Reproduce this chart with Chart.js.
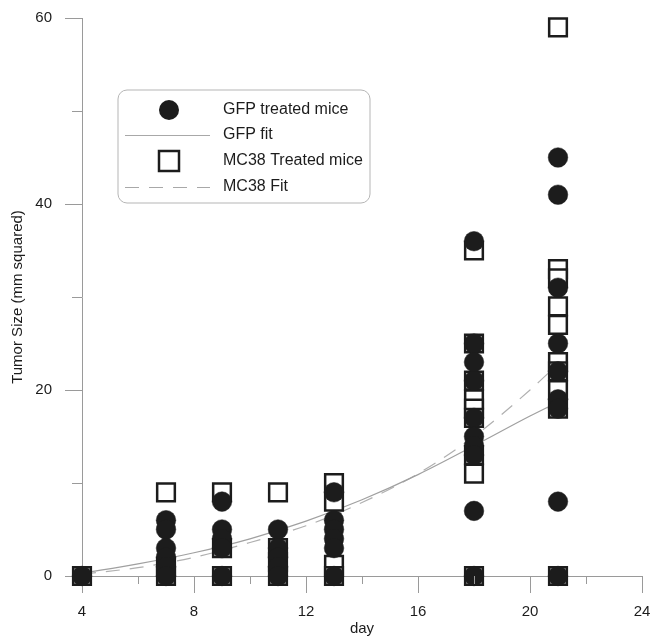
<!DOCTYPE html>
<html>
<head>
<meta charset="utf-8">
<script src="https://cdn.jsdelivr.net/npm/chart.js@4/dist/chart.umd.min.js"></script>
<style>
  html, body { margin: 0; padding: 0; background: #ffffff; }
  #wrap { position: relative; width: 652px; height: 640px; }
</style>
</head>
<body>
<div id="wrap"><canvas id="c" width="652" height="640"></canvas></div>
<script>
// ---- data ----
const days = [4, 7, 9, 11, 13, 18, 21];
const gfpDay4 = [0];
const gfpDay7 = [6, 5, 3, 2, 1, 0];
const gfpDay9 = [8, 5, 4, 3, 0];
const gfpDay11 = [5, 3, 2, 1, 0];
const gfpDay13 = [9, 6, 5, 4, 3, 0];
const gfpDay18 = [36, 25, 23, 21, 17, 15, 14, 13, 7, 0];
const gfpDay21 = [45, 41, 31, 25, 22, 19, 18, 8, 0];
const mc38Day4 = [0];
const mc38Day7 = [9, 1, 0];
const mc38Day9 = [9, 3, 0];
const mc38Day11 = [9, 3, 1.5, 0];
const mc38Day13 = [10, 8, 1.2, 0];
const mc38Day18 = [35, 25, 21, 19, 18, 17, 13, 11, 0];
const mc38Day21 = [59, 33, 32, 29, 27, 23, 22, 20, 18, 0];
const fitDays = [4, 6, 8, 10, 12, 14, 16, 18, 20, 21];
const gfpFit = [0.3, 1.3, 2.5, 4.0, 5.9, 8.2, 10.9, 14.0, 17.2, 18.7];
const mc38Fit = [0.2, 0.9, 2.0, 3.6, 5.4, 7.9, 11.0, 15.0, 20.0, 22.8];
const xTickLabels = [4, 8, 12, 16, 20, 24];
const yTickLabels = [0, 20, 40, 60];
const seriesNames = ['GFP treated mice', 'GFP fit', 'MC38 Treated mice', 'MC38 Fit'];

// ---- build point lists ----
const gfpByDay = [gfpDay4, gfpDay7, gfpDay9, gfpDay11, gfpDay13, gfpDay18, gfpDay21];
const mc38ByDay = [mc38Day4, mc38Day7, mc38Day9, mc38Day11, mc38Day13, mc38Day18, mc38Day21];
function toPoints(groups) {
  const out = [];
  groups.forEach((vals, i) => vals.forEach(v => out.push({ x: days[i], y: v })));
  return out;
}
const gfpPoints = toPoints(gfpByDay);
const mc38Points = toPoints(mc38ByDay);
const gfpFitPoints = fitDays.map((d, i) => ({ x: d, y: gfpFit[i] }));
const mc38FitPoints = fitDays.map((d, i) => ({ x: d, y: mc38Fit[i] }));

const FONT = '"Liberation Sans", Arial, Helvetica, sans-serif';
const INK = '#1c1c1c';
const AXIS = '#9a9a9a';

const minorTicks = {
  id: 'minorTicks',
  afterDraw(chart) {
    const ctx = chart.ctx;
    const xs = chart.scales.x, ys = chart.scales.y;
    ctx.save();
    ctx.strokeStyle = AXIS;
    ctx.lineWidth = 1;
    [6, 10, 14, 18, 22].forEach(v => {
      const px = Math.round(xs.getPixelForValue(v)) + 0.5;
      ctx.beginPath();
      ctx.moveTo(px, ys.bottom);
      ctx.lineTo(px, ys.bottom + 8);
      ctx.stroke();
    });
    [10, 30, 50].forEach(v => {
      const py = Math.round(ys.getPixelForValue(v)) + 0.5;
      ctx.beginPath();
      ctx.moveTo(xs.left - 10, py);
      ctx.lineTo(xs.left, py);
      ctx.stroke();
    });
    ctx.restore();
  }
};

const boxLegend = {
  id: 'boxLegend',
  afterDraw(chart) {
    const ctx = chart.ctx;
    ctx.save();
    const x0 = 118, y0 = 90, w = 252, h = 113, r = 9;
    ctx.beginPath();
    ctx.moveTo(x0 + r, y0);
    ctx.arcTo(x0 + w, y0, x0 + w, y0 + h, r);
    ctx.arcTo(x0 + w, y0 + h, x0, y0 + h, r);
    ctx.arcTo(x0, y0 + h, x0, y0, r);
    ctx.arcTo(x0, y0, x0 + w, y0, r);
    ctx.closePath();
    ctx.fillStyle = '#ffffff';
    ctx.fill();
    ctx.strokeStyle = '#b5b5b5';
    ctx.lineWidth = 1;
    ctx.stroke();

    const rows = [110, 135, 161, 187];
    // circle marker
    ctx.beginPath();
    ctx.arc(169, rows[0], 10, 0, Math.PI * 2);
    ctx.fillStyle = INK;
    ctx.fill();
    // GFP fit line
    ctx.strokeStyle = '#a8a8a8';
    ctx.lineWidth = 1.2;
    ctx.beginPath();
    ctx.moveTo(125, rows[1] + 0.5);
    ctx.lineTo(210, rows[1] + 0.5);
    ctx.stroke();
    // square marker
    ctx.fillStyle = '#ffffff';
    ctx.fillRect(159, rows[2] - 10, 20, 20);
    ctx.strokeStyle = INK;
    ctx.lineWidth = 2.5;
    ctx.strokeRect(159, rows[2] - 10, 20, 20);
    // MC38 fit line
    ctx.strokeStyle = '#a8a8a8';
    ctx.lineWidth = 1.2;
    ctx.setLineDash([14, 10]);
    ctx.beginPath();
    ctx.moveTo(125, rows[3] + 0.5);
    ctx.lineTo(210, rows[3] + 0.5);
    ctx.stroke();
    ctx.setLineDash([]);

    ctx.fillStyle = INK;
    ctx.font = '16px ' + FONT;
    ctx.textBaseline = 'middle';
    ctx.textAlign = 'left';
    seriesNames.forEach((t, i) => ctx.fillText(t, 223, rows[i]));
    ctx.restore();
  }
};

new Chart(document.getElementById('c'), {
  type: 'scatter',
  data: {
    datasets: [
      {
        label: seriesNames[0],
        data: gfpPoints,
        pointStyle: 'circle',
        pointRadius: 9.8,
        backgroundColor: INK,
        borderColor: INK,
        borderWidth: 0.5,
        clip: false,
        order: 0
      },
      {
        label: seriesNames[2],
        data: mc38Points,
        pointStyle: 'rect',
        pointRadius: 12.5,
        backgroundColor: '#ffffff',
        borderColor: INK,
        borderWidth: 2.5,
        clip: false,
        order: 1
      },
      {
        label: seriesNames[1],
        data: gfpFitPoints,
        showLine: true,
        pointRadius: 0,
        borderColor: '#a0a0a0',
        borderWidth: 1.2,
        cubicInterpolationMode: 'monotone',
        order: 2
      },
      {
        label: seriesNames[3],
        data: mc38FitPoints,
        showLine: true,
        pointRadius: 0,
        borderColor: '#b0b0b0',
        borderWidth: 1.2,
        borderDash: [14, 10],
        cubicInterpolationMode: 'monotone',
        order: 3
      }
    ]
  },
  options: {
    responsive: false,
    animation: false,
    events: [],
    layout: { autoPadding: false, padding: { left: 0, top: 18, right: 10, bottom: 0 } },
    plugins: { legend: { display: false }, tooltip: { enabled: false } },
    scales: {
      x: {
        type: 'linear',
        min: 4, max: 24,
        afterFit(s) { s.height = 64; s.paddingLeft = 0; s.paddingRight = 0; },
        border: { display: true, color: AXIS, width: 1 },
        grid: {
          drawOnChartArea: false, drawTicks: true, tickLength: 17,
          color: c => (c.tick && xTickLabels.includes(c.tick.value)) ? AXIS : 'rgba(0,0,0,0)'
        },
        ticks: {
          stepSize: 2, autoSkip: false, maxRotation: 0, padding: 10,
          color: INK, font: { family: FONT, size: 15 },
          callback: v => xTickLabels.includes(v) ? String(v) : ''
        },
        title: { display: true, text: 'day', color: INK, font: { family: FONT, size: 15 }, padding: { top: 0, bottom: 2 } }
      },
      y: {
        type: 'linear',
        min: 0, max: 60,
        afterFit(s) { s.width = 82; s.paddingTop = 0; s.paddingBottom = 0; },
        border: { display: true, color: AXIS, width: 1 },
        grid: {
          drawOnChartArea: false, drawTicks: true, tickLength: 17,
          color: c => (c.tick && yTickLabels.includes(c.tick.value)) ? AXIS : 'rgba(0,0,0,0)'
        },
        ticks: {
          stepSize: 10, autoSkip: false, padding: 13,
          color: INK, font: { family: FONT, size: 15 },
          callback: v => yTickLabels.includes(v) ? String(v) : ''
        },
        title: { display: true, text: 'Tumor Size (mm squared)', color: INK, font: { family: FONT, size: 15 }, padding: { top: 9, bottom: 0 } }
      }
    }
  },
  plugins: [minorTicks, boxLegend]
});
</script>
</body>
</html>
